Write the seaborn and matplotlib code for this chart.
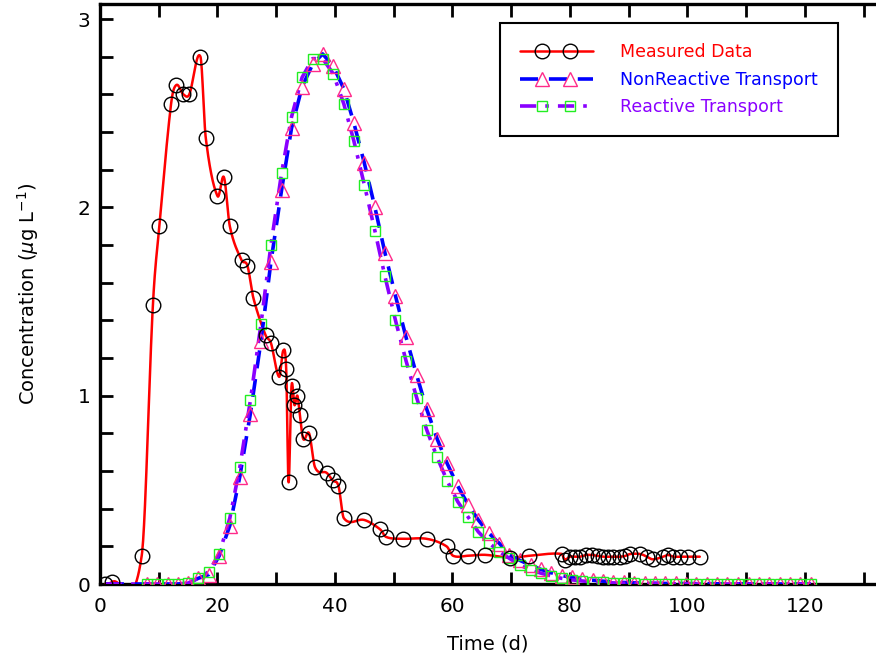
import numpy as np
import pandas as pd
import matplotlib
matplotlib.use("Agg")
import matplotlib.pyplot as plt
from matplotlib.lines import Line2D
from matplotlib.legend_handler import HandlerLine2D, HandlerTuple
from matplotlib.ticker import MultipleLocator
import seaborn as sns

# ---------------- data ----------------
meas_t = [0.9, 2.0, 7.1, 9.0, 10.1, 12.1, 13.0, 14.2, 15.2, 17.1, 18.0, 20.0, 21.1, 22.1,
          24.1, 25.1, 26.1, 28.2, 29.1, 30.5, 31.2, 31.7, 32.1, 32.6, 33.1, 33.6, 34.0,
          34.6, 35.6, 36.6, 38.6, 39.6, 40.6, 41.5, 45.0, 47.7, 48.7, 51.5, 55.6, 59.0,
          60.1, 62.6, 65.5, 69.8, 73.1, 78.6, 79.1, 80.0, 80.9, 81.7, 82.8, 83.7, 84.8,
          85.7, 86.5, 87.4, 88.5, 89.4, 90.2, 92.0, 93.1, 94.1, 95.9, 96.7, 97.6, 98.7,
          100.1, 102.1]
meas_c = [0.0, 0.01, 0.15, 1.48, 1.90, 2.55, 2.65, 2.60, 2.60, 2.80, 2.37, 2.06, 2.16, 1.90,
          1.72, 1.69, 1.52, 1.32, 1.28, 1.10, 1.24, 1.14, 0.54, 1.05, 0.95, 1.00, 0.90,
          0.77, 0.80, 0.62, 0.59, 0.55, 0.52, 0.35, 0.34, 0.29, 0.25, 0.24, 0.24, 0.20,
          0.15, 0.15, 0.155, 0.14, 0.15, 0.16, 0.13, 0.145, 0.145, 0.145, 0.154, 0.154, 0.149,
          0.145, 0.145, 0.145, 0.145, 0.149, 0.159, 0.159, 0.145, 0.131, 0.145, 0.154, 0.145, 0.145,
          0.145, 0.145]

model_t = [1.0, 8.0, 9.7, 11.5, 13.2, 15.0, 16.7, 18.5, 20.3, 22.1, 23.8, 25.6, 27.4, 29.1,
           30.9, 32.6, 34.4, 36.2, 37.9, 39.7, 41.5, 43.2, 45.0, 46.8, 48.5, 50.3, 52.1,
           53.9, 55.6, 57.4, 59.1, 60.9, 62.7, 64.4, 66.2, 68.0, 69.7, 71.5, 73.3, 75.0,
           76.8, 78.6, 80.3, 82.1, 83.9, 85.6, 87.4, 89.2, 90.9, 92.7, 94.5, 96.2, 98.0,
           99.8, 101.5, 103.3, 105.1, 106.8, 108.6, 110.4, 112.1, 113.9, 115.7, 117.4,
           119.2, 121.0]
nonreactive = [0.0, 0.0, 0.0, 0.0, 0.0, 0.005, 0.03, 0.05, 0.15, 0.31, 0.57, 0.905, 1.29, 1.71,
               2.09, 2.42, 2.64, 2.76, 2.815, 2.75, 2.63, 2.45, 2.235, 2.00, 1.76, 1.53, 1.31,
               1.11, 0.93, 0.77, 0.64, 0.52, 0.42, 0.34, 0.27, 0.215, 0.155, 0.125, 0.10, 0.078,
               0.06, 0.045, 0.035, 0.025, 0.02, 0.015, 0.01, 0.008, 0.006, 0.005, 0.004, 0.003, 0.003,
               0.002, 0.002, 0.002, 0.001, 0.001, 0.001, 0.001, 0.0, 0.0, 0.0, 0.0,
               0.0, 0.0]
reactive = [0.0, 0.0, 0.0, 0.0, 0.0, 0.005, 0.03, 0.065, 0.16, 0.35, 0.62, 0.975, 1.38, 1.80,
            2.18, 2.48, 2.69, 2.79, 2.79, 2.71, 2.55, 2.355, 2.12, 1.875, 1.635, 1.40, 1.185,
            0.99, 0.82, 0.672, 0.548, 0.437, 0.354, 0.277, 0.219, 0.171, 0.136, 0.10, 0.075, 0.058,
            0.043, 0.03, 0.022, 0.016, 0.011, 0.008, 0.006, 0.004, 0.003, 0.002, 0.002, 0.001, 0.001,
            0.001, 0.0, 0.0, 0.0, 0.0, 0.0, 0.0, 0.0, 0.0, 0.0, 0.0,
            0.0, 0.0]

labels = ["Measured Data", "NonReactive Transport", "Reactive Transport"]
x_ticks = [0, 20, 40, 60, 80, 100, 120]
y_ticks = [0, 1, 2, 3]


def smooth_curve(x, y, n=24):
    """Cubic Hermite (cardinal) spline through the points, used to draw the line."""
    x = np.asarray(x, float)
    y = np.asarray(y, float)
    m = np.empty_like(y)
    m[1:-1] = (y[2:] - y[:-2]) / (x[2:] - x[:-2])
    m[0] = (y[1] - y[0]) / (x[1] - x[0])
    m[-1] = (y[-1] - y[-2]) / (x[-1] - x[-2])
    xs, ys = [], []
    t = np.linspace(0, 1, n, endpoint=False)
    h00 = 2 * t**3 - 3 * t**2 + 1
    h10 = t**3 - 2 * t**2 + t
    h01 = -2 * t**3 + 3 * t**2
    h11 = t**3 - t**2
    for i in range(len(x) - 1):
        h = x[i + 1] - x[i]
        xs.append(x[i] + t * h)
        ys.append(h00 * y[i] + h10 * h * m[i] + h01 * y[i + 1] + h11 * h * m[i + 1])
    xs.append([x[-1]])
    ys.append([y[-1]])
    return np.concatenate(xs), np.concatenate(ys)


sns.set_style("ticks")
plt.rcParams["font.family"] = ["DejaVu Sans"]
plt.rcParams["mathtext.fontset"] = "dejavusans"
for k in ["axes.edgecolor", "xtick.color", "ytick.color", "text.color", "axes.labelcolor"]:
    plt.rcParams[k] = "black"

fig = plt.figure(figsize=(8.76, 6.56), dpi=100)
ax = fig.add_axes([100 / 876, 1 - 584 / 656, 776 / 876, 580 / 656])

RED = "#FF0000"
BLUE = "#0000FF"
PURPLE = "#8A00FF"
PINK = "#FF2A8A"
GREEN = "#22EE22"
DASH_B = (0, (5, 3))
DASH_P = (0, (4.5, 2.5, 1, 2.5))

# measured: smooth red line + open black circles
sx, sy = smooth_curve(meas_t, meas_c)
sns.lineplot(x=sx, y=sy, ax=ax, color=RED, lw=1.8, sort=False, errorbar=None, zorder=3)
sns.lineplot(x=meas_t, y=meas_c, ax=ax, sort=False, errorbar=None, ls="none",
             marker="o", markersize=10.5, markerfacecolor="none",
             markeredgecolor="black", markeredgewidth=1.0, zorder=6)

# model curves
df = pd.DataFrame({"t": model_t, "nr": nonreactive, "r": reactive})
sns.lineplot(data=df, x="t", y="nr", ax=ax, sort=False, errorbar=None, color=BLUE,
             lw=2.6, ls=DASH_B, zorder=4)
sns.lineplot(data=df, x="t", y="r", ax=ax, sort=False, errorbar=None, color=PURPLE,
             lw=2.6, ls=DASH_P, zorder=4)
sns.lineplot(x=model_t[1:], y=nonreactive[1:], ax=ax, sort=False, errorbar=None, ls="none",
             marker="^", markersize=9.5, markerfacecolor="none",
             markeredgecolor=PINK, markeredgewidth=1.0, zorder=5)
sns.lineplot(x=model_t[1:], y=reactive[1:], ax=ax, sort=False, errorbar=None, ls="none",
             marker="s", markersize=7.5, markerfacecolor="none",
             markeredgecolor=GREEN, markeredgewidth=1.0, zorder=5)

ax.set_xlim(0, 132.1)
ax.set_ylim(0, 3.08)
ax.xaxis.set_minor_locator(MultipleLocator(10))
ax.yaxis.set_minor_locator(MultipleLocator(0.2))
ax.set_xticks(x_ticks)
ax.set_yticks(y_ticks)
ax.set_xticklabels([str(v) for v in x_ticks])
ax.set_yticklabels([str(v) for v in y_ticks])
ax.tick_params(which="both", direction="in", length=9, width=2, top=True, right=False,
               labelsize=14.5)
ax.tick_params(axis="x", pad=9)
ax.tick_params(axis="y", pad=7)
for side in ["left", "bottom", "top"]:
    ax.spines[side].set_linewidth(2.4)
ax.spines["right"].set_visible(False)

ax.set_xlabel("Time (d)", fontsize=14, labelpad=14)
ax.set_ylabel(r"Concentration ($\mu$g L$^{-1}$)", fontsize=14, labelpad=26)

# legend: full-width line overlaid with two markers
def line_h(color, ls, lw):
    return Line2D([], [], color=color, ls=ls, lw=lw)


def mark_h(marker, ms, mec):
    return Line2D([], [], ls="none", marker=marker, markersize=ms, mfc="none", mec=mec, mew=1.0)


l1, m1 = line_h(RED, "-", 1.8), mark_h("o", 10.5, "black")
l2, m2 = line_h(BLUE, DASH_B, 2.6), mark_h("^", 9.5, PINK)
l3, m3 = line_h(PURPLE, DASH_P, 2.6), mark_h("s", 7.5, GREEN)
hm = {}
for l in (l1, l2, l3):
    hm[l] = HandlerLine2D(numpoints=1)
for m in (m1, m2, m3):
    hm[m] = HandlerLine2D(numpoints=2, marker_pad=1.3)
hm[tuple] = HandlerTuple(ndivide=1, pad=0)
leg = ax.legend([(l1, m1), (l2, m2), (l3, m3)], labels, handler_map=hm, loc="upper left",
                bbox_to_anchor=(0.515, 0.967), fontsize=12.5, frameon=True,
                fancybox=False, framealpha=1, edgecolor="black", handlelength=4.2,
                handletextpad=1.6, labelspacing=0.55, borderpad=1.15, borderaxespad=0)
leg.get_frame().set_linewidth(1.5)
for txt, c in zip(leg.get_texts(), [RED, BLUE, PURPLE]):
    txt.set_color(c)

fig.savefig("out.png", dpi=100)
